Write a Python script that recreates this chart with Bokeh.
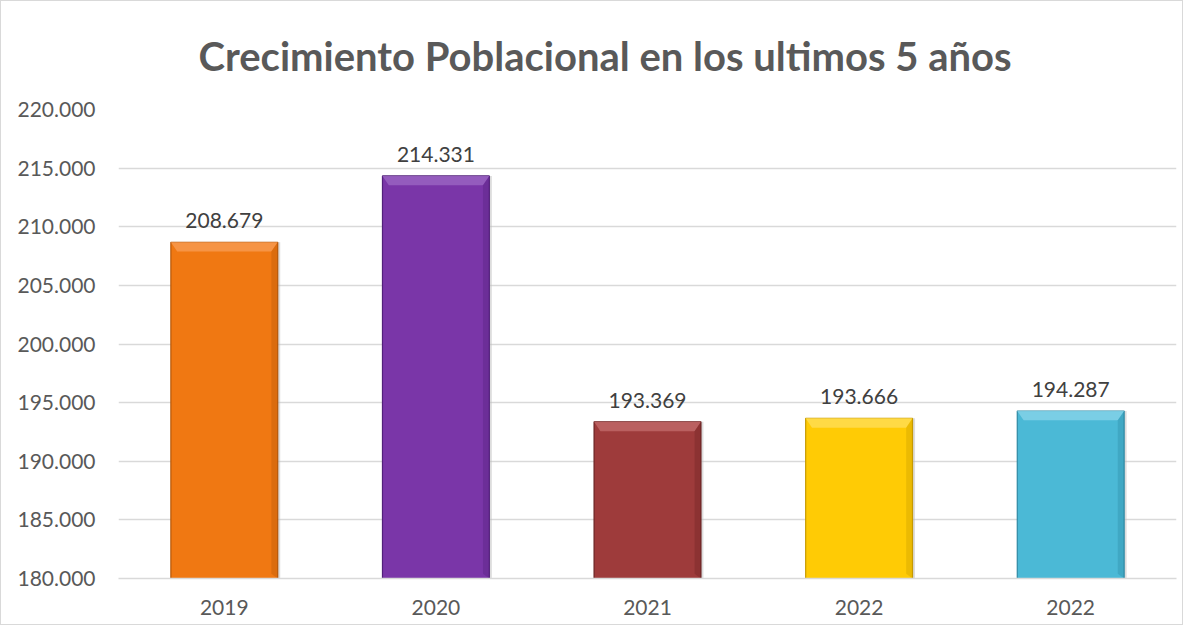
from bokeh.plotting import figure
from bokeh.models import Range1d, FixedTicker, ColumnDataSource
from bokeh.core.properties import value
from bokeh.embed import file_html
from bokeh.resources import INLINE

# ---- data ----
categories = ["2019", "2020", "2021", "2022", "2022"]
poblacion = [208679, 214331, 193369, 193666, 194287]
bar_colors = ["#F07812", "#7A36A8", "#9E3B3B", "#FFCB05", "#4BB9D6"]
edge_colors = ["#B45709", "#52207A", "#6A2222", "#C79A00", "#2E89A3"]
top_colors = ["#F79B52", "#9B66C2", "#C06A6A", "#FFDD55", "#86D3E8"]
y_ticks = [180000, 185000, 190000, 195000, 200000, 205000, 210000, 215000, 220000]
y_tick_labels = ["180.000", "185.000", "190.000", "195.000", "200.000",
                 "205.000", "210.000", "215.000", "220.000"]
title_text = "Crecimiento Poblacional en los ultimos 5 años"

FONT = "Lato"
xs = list(range(len(categories)))
labels = [f"{v:,}".replace(",", ".") for v in poblacion]
bw = 0.505

src = ColumnDataSource(dict(
    x=xs, top=poblacion, color=bar_colors, edge=edge_colors, lab=labels,
    left=[x - bw / 2 for x in xs], right=[x + bw / 2 for x in xs],
))

p = figure(width=1183, height=625, output_backend="svg", toolbar_location=None,
           x_range=Range1d(-0.5, len(categories) - 0.5),
           y_range=Range1d(180000, 220000),
           min_border_left=117, min_border_right=8, min_border_bottom=48,
           min_border_top=108, title=title_text)

p.title.text_font = FONT
p.title.text_font_size = "40px"
p.title.text_font_style = "bold"
p.title.text_color = "#595959"
p.title.align = "left"
p.title.vertical_align = "top"
p.title.offset = 80
p.title.standoff = 56

p.outline_line_color = None
p.background_fill_color = "white"
p.border_fill_color = "white"
p.styles = {"border": "1px solid #d9d9d9"}

# grid
p.xgrid.grid_line_color = None
p.ygrid.grid_line_color = "#d9d9d9"
p.ygrid.grid_line_width = 1.5
p.yaxis.ticker = FixedTicker(ticks=y_ticks)
p.xaxis.ticker = FixedTicker(ticks=xs)
p.xaxis.major_label_overrides = {x: c for x, c in zip(xs, categories)}
p.yaxis.major_label_overrides = {t: l for t, l in zip(y_ticks, y_tick_labels)}

for ax in (p.xaxis, p.yaxis):
    ax.major_tick_line_color = None
    ax.minor_tick_line_color = None
    ax.major_label_text_font = FONT
    ax.major_label_text_font_size = "21px"
    ax.major_label_text_color = "#595959"
p.yaxis.axis_line_color = None
p.xaxis.axis_line_color = "#d9d9d9"
p.xaxis.axis_line_width = 1.5
p.yaxis.major_label_standoff = 17
p.xaxis.major_label_standoff = 15

# shadow
p.quad(left="right", right="right", top="top", bottom=180000, source=src,
       line_color="#bbbbbb", line_width=5, line_alpha=0.5)
# bars
p.quad(left="left", right="right", top="top", bottom=180000, source=src,
       fill_color="color", line_color="edge", line_width=1.2)

# bevel highlights along the top edge
dx = 0.03
dy = 800
bev_x = [[x - bw / 2, x + bw / 2, x + bw / 2 - dx, x - bw / 2 + dx] for x in xs]
bev_y = [[t, t, t - dy, t - dy] for t in poblacion]
p.patches(bev_x, bev_y, fill_color=top_colors, fill_alpha=0.8, line_color=None)
side_x = [[x + bw / 2, x + bw / 2, x + bw / 2 - dx, x + bw / 2 - dx] for x in xs]
side_y = [[t, 180000, 180000 + dy / 2, t - dy] for t in poblacion]
p.patches(side_x, side_y, fill_color=edge_colors, fill_alpha=0.35, line_color=None)

# data labels
p.text(x="x", y="top", text="lab", source=src, text_align="center",
       text_baseline="bottom", y_offset=-14, text_font=value(FONT),
       text_font_size="21px", text_color="#404040")

open("out.html", "w").write(file_html(p, INLINE))
